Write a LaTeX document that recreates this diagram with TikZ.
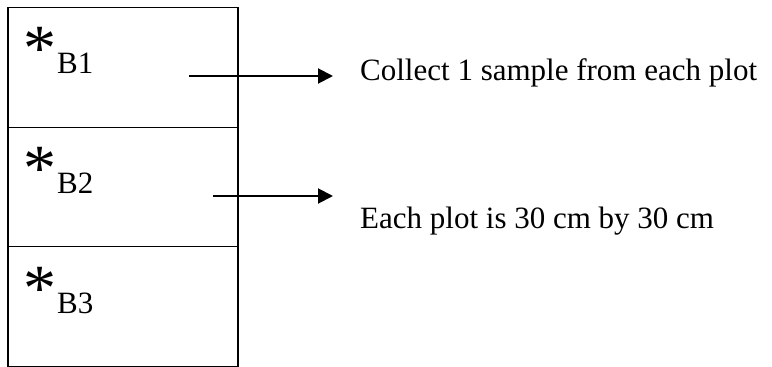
\documentclass[tikz,border=0pt]{standalone}
\usepackage{fontspec}
\setmainfont{Liberation Serif}
\usetikzlibrary{arrows.meta}
\begin{document}
\begin{tikzpicture}[x=1pt,y=-1pt,
  plot/.style={draw,line width=1.1pt,rectangle,minimum width=230pt,minimum height=119.5pt,inner sep=0pt},
  star/.style={inner sep=0pt,font=\fontsize{66}{66}\selectfont},
  sub/.style={inner sep=0pt,anchor=base west,font=\fontsize{31}{36}\selectfont},
  note/.style={inner sep=0pt,anchor=base west,font=\fontsize{31}{36}\selectfont},
  arr/.style={line width=2pt,-{Triangle[length=15pt,width=15pt]}}]
\useasboundingbox (0,0) rectangle (772,367);
\node[plot] (b1) at (123,67.5) {};
\node[plot] (b2) at (123,187) {};
\node[plot] (b3) at (123,306.5) {};
\node[star] (s1) at (40,48.5) {*};
\node[star] (s2) at (40,168.5) {*};
\node[star] (s3) at (40,288.5) {*};
\node[sub] (l1) at (57,73) {B1};
\node[sub] (l2) at (57,193) {B2};
\node[sub] (l3) at (57,313) {B3};
\node[note] (t1) at (360,80) {Collect 1 sample from each plot};
\node[note] (t2) at (360,228) {Each plot is 30 cm by 30 cm};
\coordinate (a1s) at (189,76);
\coordinate (a1e) at (333,76);
\coordinate (a2s) at (213,196);
\coordinate (a2e) at (333,196);
\draw[arr] (a1s) -- (a1e);
\draw[arr] (a2s) -- (a2e);
\end{tikzpicture}
\end{document}
